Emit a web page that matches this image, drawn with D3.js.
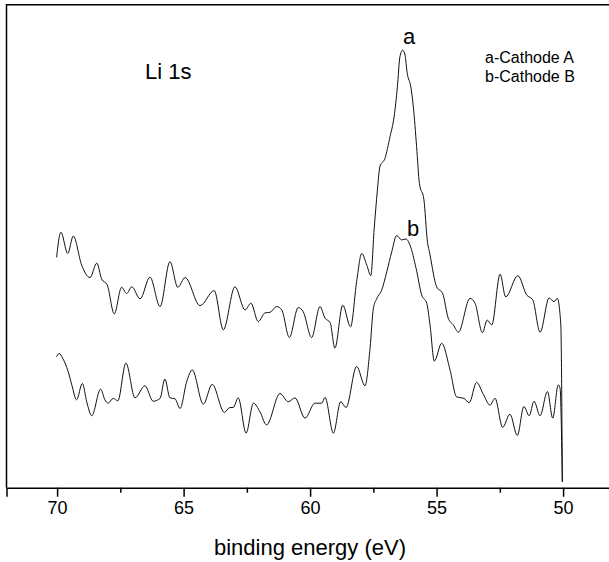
<!DOCTYPE html>
<html>
<head>
<meta charset="utf-8">
<script src="https://cdn.jsdelivr.net/npm/d3@7"></script>
<style>
  body { margin: 0; background: #fff; }
  text { font-family: "Liberation Sans", Arial, sans-serif; fill: #000; }
</style>
</head>
<body>
<script>
// Li 1s spectra (intensity in arbitrary units, 0-100)
var energyA = [70.02, 69.85, 69.58, 69.36, 69.03, 68.70, 68.43, 68.24, 68.02, 67.74, 67.45, 67.25, 67.05, 66.72,
  66.33, 65.93, 65.54, 65.23, 64.94, 64.35, 63.79, 63.43, 62.97, 62.57, 62.34, 62.05, 61.78, 61.59, 61.32, 61.12,
  60.82, 60.47, 60.27, 59.94, 59.61, 59.41, 59.21, 59.02, 58.71, 58.40, 58.16, 57.96, 57.76, 57.60, 57.47, 57.34,
  57.24, 57.04, 56.84, 56.68, 56.55, 56.45, 56.34, 56.25, 56.16, 56.02, 55.92, 55.79, 55.68, 55.50, 55.37, 55.26,
  55.00, 54.76, 54.54, 54.34, 54.14, 53.68, 53.48, 53.19, 53.00, 52.82, 52.49, 52.27, 51.79, 51.44, 51.20, 50.91,
  50.55, 50.36, 50.23, 50.09, 50.03];
var intensityA = [47.7, 52.9, 48.5, 52.1, 46.1, 43.5, 46.5, 43.2, 42.0, 36.0, 41.5, 40.2, 41.6, 39.1,
  43.6, 37.5, 46.8, 41.5, 43.5, 37.7, 40.8, 32.7, 41.6, 36.8, 38.2, 34.4, 36.2, 36.3, 37.5, 36.8,
  31.1, 37.3, 36.4, 31.1, 37.5, 35.1, 34.2, 28.9, 37.8, 33.3, 42.7, 48.5, 46.1, 43.9, 53.4, 61.6,
  66.5, 68.2, 72.7, 76.8, 83.0, 89.2, 90.6, 89.6, 85.8, 83.0, 78.9, 70.6, 63.0, 59.6, 51.3, 48.2,
  41.6, 40.2, 35.1, 33.7, 32.2, 39.2, 38.2, 32.1, 34.7, 33.7, 44.2, 39.5, 43.9, 39.9, 38.9, 32.2,
  39.3, 38.5, 39.2, 33.7, 1.2];

var energyB = [70.02, 69.92, 69.78, 69.56, 69.42, 69.23, 69.00, 68.83, 68.63, 68.28, 68.11, 67.98, 67.78, 67.60,
  67.28, 66.92, 66.53, 66.20, 65.93, 65.74, 65.54, 65.34, 65.14, 64.88, 64.66, 64.22, 63.87, 63.39, 63.17, 63.04,
  62.84, 62.53, 62.24, 61.98, 61.72, 61.19, 60.86, 60.60, 60.20, 59.81, 59.54, 59.41, 59.08, 58.79, 58.58, 58.16,
  57.83, 57.63, 57.50, 57.37, 57.17, 56.97, 56.77, 56.58, 56.38, 56.21, 56.05, 55.81, 55.59, 55.39, 55.26, 55.09,
  54.80, 54.47, 54.21, 53.92, 53.71, 53.42, 53.15, 52.89, 52.69, 52.39, 52.10, 51.81, 51.55, 51.34, 51.15, 50.91,
  50.62, 50.41, 50.19, 50.12, 50.03];
var intensityB = [27.1, 27.8, 26.8, 24.0, 21.3, 18.2, 21.6, 17.8, 14.9, 20.4, 18.2, 17.5, 18.5, 18.0,
  25.8, 18.6, 21.1, 17.9, 18.5, 22.5, 18.6, 18.4, 16.4, 21.9, 24.4, 17.3, 21.4, 15.6, 16.6, 16.6,
  18.6, 11.3, 17.5, 15.7, 13.0, 19.5, 17.8, 18.6, 14.4, 17.5, 17.5, 18.7, 11.3, 17.8, 16.6, 25.1,
  21.1, 28.9, 37.1, 39.1, 40.9, 44.7, 48.9, 52.2, 51.3, 51.5, 50.2, 45.4, 39.9, 38.2, 33.7, 26.2,
  29.9, 24.4, 18.8, 18.5, 17.6, 21.8, 19.3, 17.1, 18.5, 12.5, 15.2, 10.8, 16.8, 14.9, 17.9, 14.9,
  19.9, 14.4, 21.3, 20.6, 1.2];

var majorTicks = [70, 65, 60, 55, 50];
var minorTicks = [67.5, 62.5, 57.5, 52.5];
var legendLabels = ['a-Cathode A', 'b-Cathode B'];

var width = 609;
var height = 562;

var svg = d3.select('body')
    .append('svg')
    .attr('width', width)
    .attr('height', height);

// binding energy runs right to left
var xScale = d3.scaleLinear()
    .domain([72, 48])
    .range([6.5, 613.7]);

var yScale = d3.scaleLinear()
    .domain([0, 100])
    .range([487.7, 4.7]);

// frame (left + top), bottom axis drawn below
svg.append('path')
    .attr('d', 'M' + xScale(72) + ',' + yScale(0) + 'V' + yScale(100) + 'H' + xScale(48))
    .attr('fill', 'none')
    .attr('stroke', '#000')
    .attr('stroke-width', 1.5);

var xAxis = d3.axisBottom(xScale)
    .tickValues(majorTicks)
    .tickSize(9)
    .tickPadding(5)
    .tickFormat(d3.format('d'));
var xAxisGroup = svg.append('g')
    .attr('transform', 'translate(0,' + yScale(0) + ')')
    .call(xAxis);
xAxisGroup.select('.domain').attr('stroke-width', 1.5);
xAxisGroup.selectAll('.tick line').attr('stroke-width', 1.5);
xAxisGroup.selectAll('text')
    .attr('font-size', 18)
    .attr('font-family', '"Liberation Sans", Arial, sans-serif');

var minorAxis = d3.axisBottom(xScale)
    .tickValues(minorTicks)
    .tickSize(5)
    .tickFormat('');
var minorGroup = svg.append('g')
    .attr('transform', 'translate(0,' + yScale(0) + ')')
    .call(minorAxis);
minorGroup.select('.domain').remove();
minorGroup.selectAll('.tick line').attr('stroke-width', 1.5);

// axis title
svg.append('text')
    .attr('x', 310)
    .attr('y', 555)
    .attr('text-anchor', 'middle')
    .attr('font-size', 22)
    .text('binding energy (eV)');

var line = d3.line()
    .x(function(d){ return xScale(d[0]); })
    .y(function(d){ return yScale(d[1]); })
    .curve(d3.curveMonotoneX);

var seriesA = energyA.map(function(e, i){ return [e, intensityA[i]]; });
var seriesB = energyB.map(function(e, i){ return [e, intensityB[i]]; });

svg.selectAll('.spectrum')
    .data([seriesA, seriesB])
    .enter()
    .append('path')
    .attr('class', 'spectrum')
    .attr('d', line)
    .attr('fill', 'none')
    .attr('stroke', '#111')
    .attr('stroke-width', 1);

// labels
svg.append('text')
    .attr('x', 145)
    .attr('y', 79)
    .attr('font-size', 22)
    .text('Li 1s');

svg.append('text')
    .attr('x', 409)
    .attr('y', 44)
    .attr('text-anchor', 'middle')
    .attr('font-size', 22)
    .text('a');

svg.append('text')
    .attr('x', 413)
    .attr('y', 236)
    .attr('text-anchor', 'middle')
    .attr('font-size', 22)
    .text('b');

svg.selectAll('.legend')
    .data(legendLabels)
    .enter()
    .append('text')
    .attr('class', 'legend')
    .attr('x', 485)
    .attr('y', function(d, i){ return 63 + i * 19; })
    .attr('font-size', 16)
    .text(function(d){ return d; });
</script>
</body>
</html>
